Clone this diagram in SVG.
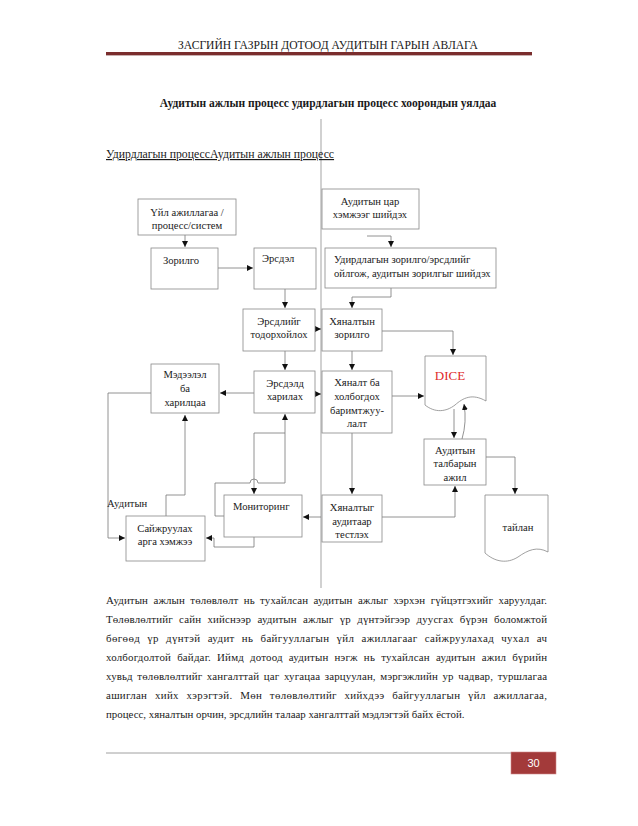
<svg xmlns="http://www.w3.org/2000/svg" width="638" height="826" viewBox="0 0 638 826">
<style>
text{font-family:"Liberation Serif","Times New Roman",serif;fill:#1a1a1a}
.t{font-size:10.6px}
.c{text-anchor:middle}
.box{fill:#fff;stroke:#888;stroke-width:0.8}
.ln{fill:none;stroke:#777;stroke-width:0.8}
.p{font-size:10.9px}
</style>
<defs>
<marker id="ah" viewBox="0 0 6 6" refX="6" refY="3" markerWidth="6" markerHeight="6" orient="auto" markerUnits="userSpaceOnUse">
<path d="M0,0 L6,3 L0,6 Z" fill="#111"/>
</marker>
</defs>
<rect width="638" height="826" fill="#fff"/>
<g id="header">
<text x="328" y="49" class="c" style="font-size:11.6px">ЗАСГИЙН ГАЗРЫН ДОТООД АУДИТЫН ГАРЫН АВЛАГА</text>
<rect x="106" y="52" width="426" height="3" fill="#7a2d2d"/>
<rect x="106" y="55" width="426" height="1" fill="#c9b0b0"/>
</g>
<text x="328" y="107" class="c" style="font-size:11.5px;font-weight:bold">Аудитын ажлын процесс удирдлагын процесс хоорондын уялдаа</text>
<line x1="321" y1="119" x2="321" y2="588" stroke="#999" stroke-width="0.9"/>
<text x="106" y="158" style="font-size:11.75px;text-decoration:underline">Удирдлагын процессАудитын ажлын процесс</text>

<g id="connectors">
<path class="ln" d="M185,235 V247" marker-end="url(#ah)"/>
<path class="ln" d="M218,268 H253" marker-end="url(#ah)"/>
<path class="ln" d="M367,236 H391 V247" marker-end="url(#ah)"/>
<path class="ln" d="M391,288 V297 H352 V308" marker-end="url(#ah)"/>
<path class="ln" d="M285,289 V308" marker-end="url(#ah)"/>
<path class="ln" d="M315,329 H321" marker-end="url(#ah)"/>
<path class="ln" d="M382,331 H453 V355" marker-end="url(#ah)"/>
<path class="ln" d="M285,351 V370" marker-end="url(#ah)"/>
<path class="ln" d="M352,351 V370" marker-end="url(#ah)"/>
<path class="ln" d="M315,394 H321" marker-end="url(#ah)"/>
<path class="ln" d="M254,393 H220" marker-end="url(#ah)"/>
<path class="ln" d="M392,396 H424" marker-end="url(#ah)"/>
<path class="ln" d="M454,409 V438" marker-end="url(#ah)"/>
<path class="ln" d="M462,439 Q467,422 464,404" marker-end="url(#ah)"/>
<path class="ln" d="M486,457 H515 V494" marker-end="url(#ah)"/>
<path class="ln" d="M352,433 V494" marker-end="url(#ah)"/>
<path class="ln" d="M382,517 H455 V486" marker-end="url(#ah)"/>
<path class="ln" d="M321,517 H303" marker-end="url(#ah)"/>
<path class="ln" d="M224,516 H215 V483 H250 A4,4 0 0 1 258,483 H285 V414" marker-end="url(#ah)"/>
<path class="ln" d="M285,433 H254 V494" marker-end="url(#ah)"/>
<path class="ln" d="M254,537 V547 H214 V538 H206" marker-end="url(#ah)"/>
<path class="ln" d="M166,516 V495 H185 V415" marker-end="url(#ah)"/>
<path class="ln" d="M151,393 H108 V538 H125" marker-end="url(#ah)"/>
</g>

<g id="n-uil"><rect class="box" x="138" y="199" width="98" height="36"/><text class="t c" x="187" y="216">Үйл ажиллагаа /</text><text class="t c" x="187" y="229">процесс/систем</text></g>
<g id="n-zorilgo"><rect class="box" x="151" y="248" width="67" height="41"/><text class="t c" x="181" y="264">Зорилго</text></g>
<g id="n-ersdel"><rect class="box" x="254" y="248" width="62" height="41"/><text class="t" x="262" y="262">Эрсдэл</text></g>
<g id="n-tsar"><rect class="box" x="322" y="189" width="97" height="40"/><text class="t c" x="370" y="205">Аудитын цар</text><text class="t c" x="370" y="218">хэмжээг шийдэх</text></g>
<g id="n-udird"><rect class="box" x="325" y="248" width="171" height="40"/><text class="t" x="334" y="263">Удирдлагын зорилго/эрсдлийг</text><text class="t" x="334" y="277">ойлгож, аудитын зорилгыг шийдэх</text></g>
<g id="n-todorh"><rect class="box" x="243" y="309" width="72" height="42"/><text class="t c" x="279" y="325">Эрсдлийг</text><text class="t c" x="279" y="338">тодорхойлох</text></g>
<g id="n-hzor"><rect class="box" x="322" y="309" width="60" height="42"/><text class="t c" x="352" y="325">Хяналтын</text><text class="t c" x="352" y="338">зорилго</text></g>
<g id="n-dice"><path class="box" d="M425,356 H486 V401 C472,393 463,398 455,405 C446,412 435,413 425,405 Z"/><text x="450" y="380" class="c" style="font-size:13px;fill:#e02a2a">DICE</text></g>
<g id="n-medeelel"><rect class="box" x="151" y="364" width="68" height="49"/><text class="t c" x="185" y="378">Мэдээлэл</text><text class="t c" x="185" y="392">ба</text><text class="t c" x="185" y="406">харилцаа</text></g>
<g id="n-hariulah"><rect class="box" x="254" y="371" width="61" height="42"/><text class="t c" x="285" y="387">Эрсдэлд</text><text class="t c" x="285" y="400">харилах</text></g>
<g id="n-hyanalt"><rect class="box" x="322" y="371" width="70" height="62"/><text class="t c" x="357" y="386">Хяналт ба</text><text class="t c" x="357" y="400">холбогдох</text><text class="t c" x="357" y="414">баримтжуу-</text><text class="t c" x="357" y="427">лалт</text></g>
<g id="n-talbar"><rect class="box" x="424" y="439" width="62" height="46"/><text class="t c" x="455" y="454">Аудитын</text><text class="t c" x="455" y="467">талбарын</text><text class="t c" x="455" y="481">ажил</text></g>
<g id="n-monitor"><rect class="box" x="224" y="495" width="78" height="42"/><text class="t" x="233" y="510">Мониторинг</text></g>
<g id="n-saij"><rect class="box" x="126" y="516" width="79" height="45"/><text class="t c" x="165" y="532">Сайжруулах</text><text class="t c" x="165" y="545">арга хэмжээ</text></g>
<g id="n-test"><rect class="box" x="322" y="495" width="60" height="47"/><text class="t c" x="352" y="511">Хяналтыг</text><text class="t c" x="352" y="525">аудитаар</text><text class="t c" x="352" y="538">тестлэх</text></g>
<g id="n-tailan"><path class="box" d="M485,495 H548 V552 C537,546 528,550 518,557 C507,564 495,562 485,553 Z"/><text class="t c" x="518" y="531">тайлан</text></g>
<text class="t" x="107" y="507">Аудитын</text>

<g id="para" class="p">
<text x="106" y="604" textLength="441" lengthAdjust="spacing" word-spacing="2.6">Аудитын ажлын төлөвлөлт нь тухайлсан аудитын ажлыг хэрхэн гүйцэтгэхийг харуулдаг.</text>
<text x="106" y="623" textLength="441" lengthAdjust="spacing" word-spacing="3.5">Төлөвлөлтийг сайн хийснээр аудитын ажлыг үр дүнтэйгээр дуусгах бүрэн боломжтой</text>
<text x="106" y="642" textLength="441" lengthAdjust="spacing" word-spacing="4">бөгөөд үр дүнтэй аудит нь байгууллагын үйл ажиллагааг сайжруулахад чухал ач</text>
<text x="106" y="661" textLength="441" lengthAdjust="spacing" word-spacing="3.2">холбогдолтой байдаг. Иймд дотоод аудитын нэгж нь тухайлсан аудитын ажил бүрийн</text>
<text x="106" y="680" textLength="441" lengthAdjust="spacing" word-spacing="1.7">хувьд төлөвлөлтийг хангалттай цаг хугацаа зарцуулан, мэргэжлийн ур чадвар, туршлагаа</text>
<text x="106" y="699" textLength="441" lengthAdjust="spacing" word-spacing="4.7">ашиглан хийх хэрэгтэй. Мөн төлөвлөлтийг хийхдээ байгууллагын үйл ажиллагаа,</text>
<text x="106" y="718">процесс, хяналтын орчин, эрсдлийн талаар хангалттай мэдлэгтэй байх ёстой.</text>
</g>

<g id="footer">
<line x1="106" y1="753" x2="511" y2="753" stroke="#888" stroke-width="0.8"/>
<rect x="511" y="752" width="45" height="22" fill="#a33a3a" stroke="#d08a8a" stroke-width="0.6"/>
<text x="533.5" y="767" class="c" style="font-family:'Liberation Sans',Arial,sans-serif;font-size:11px;fill:#fff">30</text>
</g>
</svg>
